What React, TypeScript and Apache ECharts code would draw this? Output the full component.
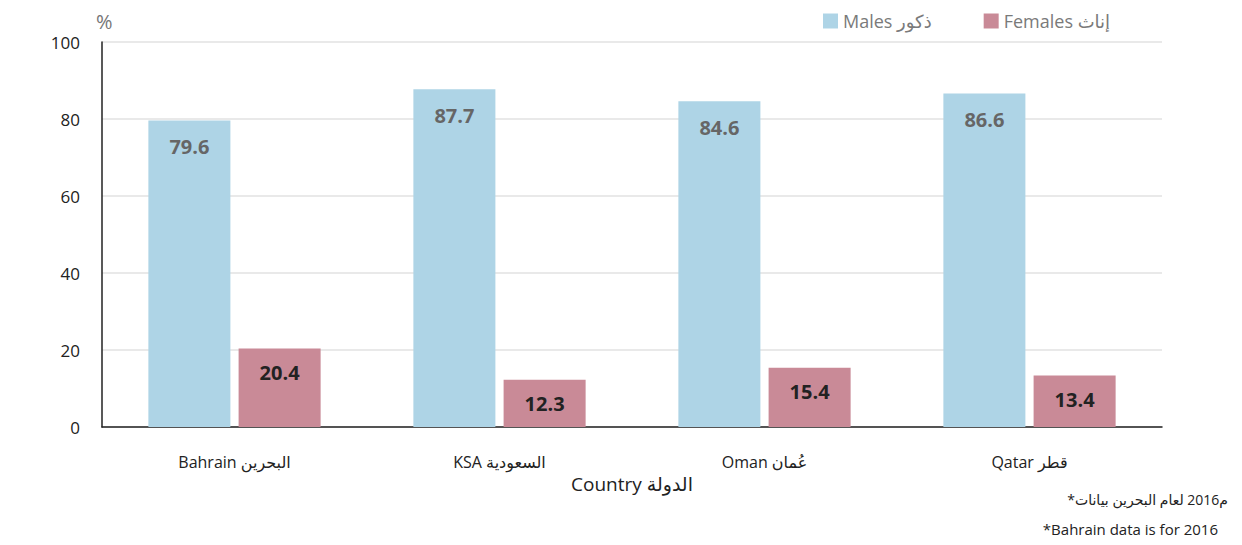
import React, { useEffect, useRef } from "react";
import * as echarts from "echarts";

const categories = ["Bahrain البحرين", "KSA السعودية", "Oman عُمان", "Qatar قطر"];
const males = [79.6, 87.7, 84.6, 86.6];
const females = [20.4, 12.3, 15.4, 13.4];
const yTicks = [0, 20, 40, 60, 80, 100];
const maleName = "Males ذكور";
const femaleName = "Females إناث";
const xName = "Country الدولة";
// footnote pieces, in the visual left-to-right order of the reference
const note1Pieces = ["*", "بيانات", " ", "البحرين", " ", "لعام", " ", "2016", "م"];
const note2 = "*Bahrain data is for 2016";

const FONT = "'Open Sans', 'Noto Sans', 'DejaVu Sans', sans-serif";

function textWidth(text: string, size: number): number {
  const c = document.createElement("canvas").getContext("2d");
  if (!c) return text.length * size * 0.5;
  c.font = `${size}px ${FONT}`;
  return c.measureText(text).width;
}

export default function App() {
  const ref = useRef<HTMLDivElement>(null);
  useEffect(() => {
    if (!ref.current) return;
    const chart = echarts.init(ref.current, undefined, { renderer: "svg" });
    const noteSize = 14;
    const widths = note1Pieces.map((p) => textWidth(p, noteSize));
    const total = widths.reduce((a, b) => a + b, 0);
    let x = 1228 - total;
    const noteEls: any[] = [];
    note1Pieces.forEach((p, i) => {
      if (p.trim() !== "") {
        noteEls.push({
          type: "text",
          x: x,
          y: 492,
          style: { text: p, fill: "#222", fontSize: noteSize, fontFamily: FONT },
        });
      }
      x += widths[i];
    });

    chart.setOption({
      animation: false,
      textStyle: { fontFamily: FONT },
      grid: { left: 102, right: 80, top: 42, bottom: 118, containLabel: false },
      legend: {
        left: 818,
        top: 7,
        itemWidth: 15,
        itemHeight: 15,
        itemGap: 52,
        icon: "rect",
        textStyle: { color: "#7a7a7a", fontSize: 18, fontFamily: FONT },
        data: [maleName, femaleName],
      },
      xAxis: {
        type: "category",
        data: categories,
        name: xName,
        nameLocation: "middle",
        nameGap: 46,
        nameTextStyle: { color: "#222", fontSize: 19, fontFamily: FONT },
        axisLine: { show: true, lineStyle: { color: "#222", width: 1.5 } },
        axisTick: { show: false },
        axisLabel: { color: "#222", fontSize: 16, margin: 27, fontFamily: FONT },
      },
      yAxis: {
        type: "value",
        min: yTicks[0],
        max: yTicks[yTicks.length - 1],
        interval: 20,
        axisLine: { show: true, lineStyle: { color: "#222", width: 1.5 } },
        axisTick: { show: false },
        axisLabel: { color: "#222", fontSize: 17, margin: 22, fontFamily: FONT },
        splitLine: { show: true, lineStyle: { color: "#e2e2e2", width: 1.5 } },
      },
      series: [
        {
          name: maleName,
          type: "bar",
          data: males,
          barGap: "10%",
          barCategoryGap: "35%",
          itemStyle: { color: "#aed4e6" },
          label: {
            show: true,
            position: "insideTop",
            distance: 16,
            color: "#666",
            fontSize: 20,
            fontWeight: "bold",
            fontFamily: FONT,
          },
        },
        {
          name: femaleName,
          type: "bar",
          data: females,
          itemStyle: { color: "#c98a97" },
          label: {
            show: true,
            position: "insideTop",
            distance: 14,
            color: "#222",
            fontSize: 20,
            fontWeight: "bold",
            fontFamily: FONT,
          },
        },
      ],
      graphic: [
        {
          type: "text",
          left: 96,
          top: 11,
          style: { text: "%", fill: "#777", fontSize: 20, fontFamily: FONT },
        },
        ...noteEls,
        {
          type: "text",
          right: 24,
          top: 521,
          style: { text: note2, fill: "#222", fontSize: 15, fontFamily: FONT },
        },
      ],
    });
    return () => chart.dispose();
  }, []);
  return (
    <div
      ref={ref}
      style={{ position: "fixed", left: 0, top: 0, width: 1242, height: 545, background: "#fff" }}
    />
  );
}
